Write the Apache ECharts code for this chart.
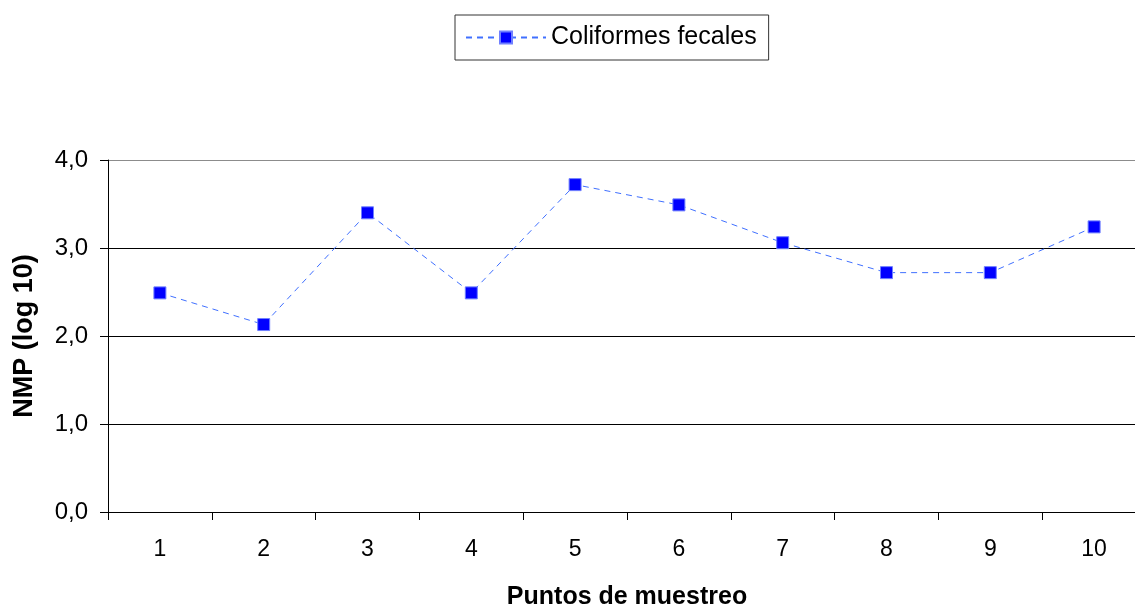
<!DOCTYPE html>
<html>
<head>
<meta charset="utf-8">
<script src="https://cdn.jsdelivr.net/npm/echarts@6/dist/echarts.min.js"></script>
<style>
  html, body { margin: 0; padding: 0; background: #fff; }
  #chart { width: 1135px; height: 607px; }
</style>
</head>
<body>
<div id="chart"></div>
<script>
// Sampling points along the stream
const categories = ['1', '2', '3', '4', '5', '6', '7', '8', '9', '10'];
// Fecal coliforms, MPN expressed as log10
const coliformes = [2.49, 2.13, 3.40, 2.49, 3.72, 3.49, 3.06, 2.72, 2.72, 3.24];
// Value axis range and step
const yMin = 0;
const yMax = 4;
const yStep = 1;

const FONT = 'Arial, "Liberation Sans", sans-serif';

const chart = echarts.init(document.getElementById('chart'), null, { renderer: 'canvas' });

chart.setOption({
  animation: false,
  backgroundColor: '#ffffff',
  textStyle: { fontFamily: FONT, color: '#000' },
  legend: {
    left: 455,
    top: 15,
    padding: [10, 12, 10, 10],
    itemWidth: 80,
    itemHeight: 15,
    itemGap: 10,
    borderColor: '#333',
    borderWidth: 1,
    textStyle: { fontFamily: FONT, fontSize: 25, color: '#000' },
    data: ['Coliformes fecales']
  },
  grid: {
    left: 108,
    top: 160,
    width: 1038,
    height: 352,
    outerBoundsMode: 'none'
  },
  xAxis: {
    type: 'category',
    data: categories,
    boundaryGap: true,
    name: 'Puntos de muestreo',
    nameLocation: 'middle',
    nameGap: 73,
    nameTextStyle: { fontFamily: FONT, fontSize: 25, fontWeight: 'bold', color: '#000' },
    axisLine: { show: true, lineStyle: { color: '#000', width: 1 } },
    axisTick: { show: true, alignWithLabel: false, inside: false, length: 8, lineStyle: { color: '#000' } },
    axisLabel: { margin: 26, fontFamily: FONT, fontSize: 23, color: '#000' },
    splitLine: { show: false }
  },
  yAxis: {
    type: 'value',
    min: yMin,
    max: yMax,
    interval: yStep,
    name: 'NMP (log 10)',
    nameLocation: 'middle',
    nameGap: 70,
    nameRotate: 90,
    nameTextStyle: { fontFamily: FONT, fontSize: 27, fontWeight: 'bold', color: '#000' },
    axisLine: { show: true, lineStyle: { color: '#000', width: 1 } },
    axisTick: { show: true, inside: false, length: 8, lineStyle: { color: '#000' } },
    axisLabel: {
      margin: 20,
      fontFamily: FONT,
      fontSize: 24,
      color: '#000',
      formatter: v => v.toFixed(1).replace('.', ',')
    },
    splitLine: {
      show: true,
      lineStyle: { color: ['#000', '#000', '#000', '#000', '#8c8c8c'], width: 1 }
    }
  },
  series: [{
    name: 'Coliformes fecales',
    type: 'line',
    data: coliformes,
    symbol: 'rect',
    symbolSize: 12,
    itemStyle: { color: '#0000ff', borderColor: '#7080ff', borderWidth: 1 },
    lineStyle: { color: '#4070ff', width: 1, type: [6, 5] },
    emphasis: { disabled: true }
  }]
});
</script>
</body>
</html>
